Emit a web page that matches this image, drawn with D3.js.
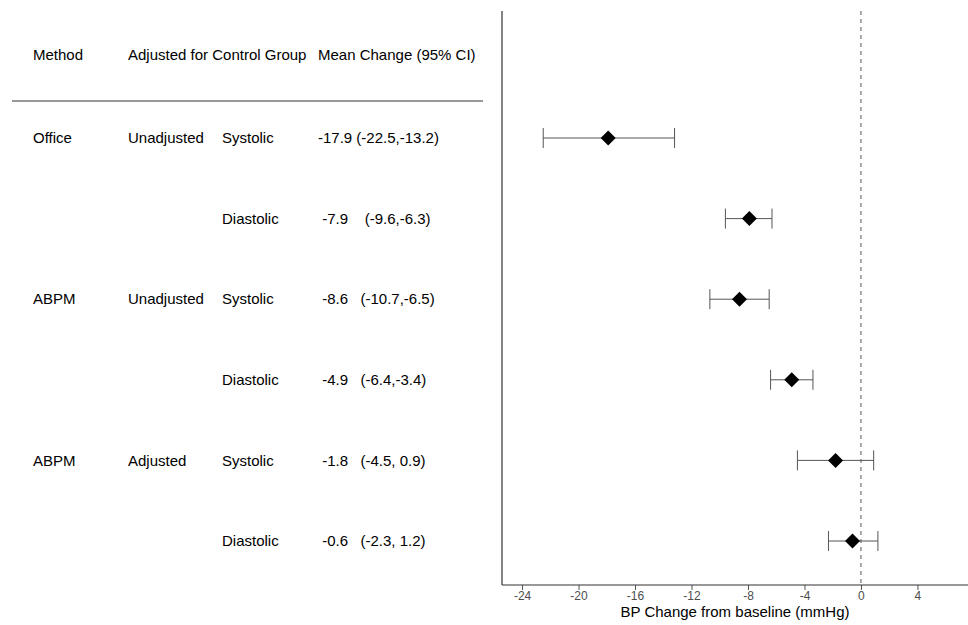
<!DOCTYPE html>
<html>
<head>
<meta charset="utf-8">
<script src="https://cdn.jsdelivr.net/npm/d3@7/dist/d3.min.js"></script>
<style>
  body { margin: 0; background: #fff; }
  svg text { font-family: "Liberation Sans", Arial, sans-serif; white-space: pre; }
</style>
</head>
<body>
<script>
// table columns
const methods   = ["Office", "", "ABPM", "", "ABPM", ""];
const adjusted  = ["Unadjusted", "", "Unadjusted", "", "Adjusted", ""];
const bpType    = ["Systolic", "Diastolic", "Systolic", "Diastolic", "Systolic", "Diastolic"];
const ciLabels  = ["-17.9 (-22.5,-13.2)", " -7.9    (-9.6,-6.3)", " -8.6   (-10.7,-6.5)",
                   " -4.9   (-6.4,-3.4)", " -1.8   (-4.5, 0.9)", " -0.6   (-2.3, 1.2)"];
const headers   = ["Method", "Adjusted for Control Group", "Mean Change (95% CI)"];

// estimates
const means = [-17.9, -7.9, -8.6, -4.9, -1.8, -0.6];
const lower = [-22.5, -9.6, -10.7, -6.4, -4.5, -2.3];
const upper = [-13.2, -6.3, -6.5, -3.4, 0.9, 1.2];

const xTicks = [-24, -20, -16, -12, -8, -4, 0, 4];

const W = 968, H = 625;
const plot = {left: 502, right: 968, top: 11, bottom: 585};

const svg = d3.select("body").append("svg")
    .attr("width", W)
    .attr("height", H);

const x = d3.scaleLinear().domain([-25.42, 7.58]).range([plot.left, plot.right]);
const y = d3.scalePoint().domain(d3.range(means.length)).range([138, 541]);

// table header
const colX = [33, 128, 318];
svg.selectAll(".hdr").data(headers).enter().append("text")
    .attr("x", (d, i) => colX[i])
    .attr("y", 55)
    .attr("dy", "0.35em")
    .style("font-size", "15px")
    .attr("fill", "#000")
    .text(d => d);

svg.append("line")
    .attr("x1", 12).attr("x2", 483)
    .attr("y1", 101).attr("y2", 101)
    .attr("stroke", "#333").attr("stroke-width", 1);

// table rows
const cols = [[methods, 33], [adjusted, 128], [bpType, 222], [ciLabels, 318]];
cols.forEach(([arr, cx]) => {
    svg.append("g").selectAll("text").data(arr).enter().append("text")
        .attr("x", cx)
        .attr("y", (d, i) => y(i))
        .attr("dy", "0.35em")
        .attr("xml:space", "preserve")
        .style("font-size", "15px")
        .text(d => d);
});

// x axis
const xAxis = svg.append("g")
    .attr("transform", "translate(0," + plot.bottom + ")")
    .call(d3.axisBottom(x).tickValues(xTicks).tickSize(5).tickPadding(1)
        .tickFormat(d => String(d)));
xAxis.select(".domain").remove();
xAxis.selectAll(".tick line").attr("stroke", "#555");
xAxis.selectAll(".tick text")
    .attr("fill", "#4d4d4d")
    .style("font-size", "12px")
    .style("font-family", "Liberation Sans, Arial, sans-serif");

// axis frame lines
svg.append("line")
    .attr("x1", plot.left).attr("x2", plot.right)
    .attr("y1", plot.bottom).attr("y2", plot.bottom)
    .attr("stroke", "#333").attr("stroke-width", 1.2);
svg.append("line")
    .attr("x1", plot.left).attr("x2", plot.left)
    .attr("y1", plot.top).attr("y2", plot.bottom)
    .attr("stroke", "#333").attr("stroke-width", 1.2);

svg.append("text")
    .attr("x", (plot.left + plot.right) / 2)
    .attr("y", 612)
    .attr("dy", "0.35em")
    .attr("text-anchor", "middle")
    .style("font-size", "15px")
    .text("BP Change from baseline (mmHg)");

// reference line at 0
svg.append("line")
    .attr("x1", x(0)).attr("x2", x(0))
    .attr("y1", plot.top).attr("y2", plot.bottom)
    .attr("stroke", "#555").attr("stroke-width", 1)
    .attr("stroke-dasharray", "4,4");

// error bars
const rows = d3.range(means.length);
const bars = svg.append("g").selectAll("g").data(rows).enter().append("g")
    .attr("stroke", "#555").attr("stroke-width", 1);
bars.append("line")
    .attr("x1", i => x(lower[i])).attr("x2", i => x(upper[i]))
    .attr("y1", i => y(i)).attr("y2", i => y(i));
bars.append("line")
    .attr("x1", i => x(lower[i])).attr("x2", i => x(lower[i]))
    .attr("y1", i => y(i) - 10).attr("y2", i => y(i) + 10);
bars.append("line")
    .attr("x1", i => x(upper[i])).attr("x2", i => x(upper[i]))
    .attr("y1", i => y(i) - 10).attr("y2", i => y(i) + 10);

// diamonds
svg.append("g").selectAll("path").data(rows).enter().append("path")
    .attr("transform", i => "translate(" + x(means[i]) + "," + y(i) + ")")
    .attr("d", "M0,-7.5L7.5,0L0,7.5L-7.5,0Z")
    .attr("fill", "#000");
</script>
</body>
</html>
